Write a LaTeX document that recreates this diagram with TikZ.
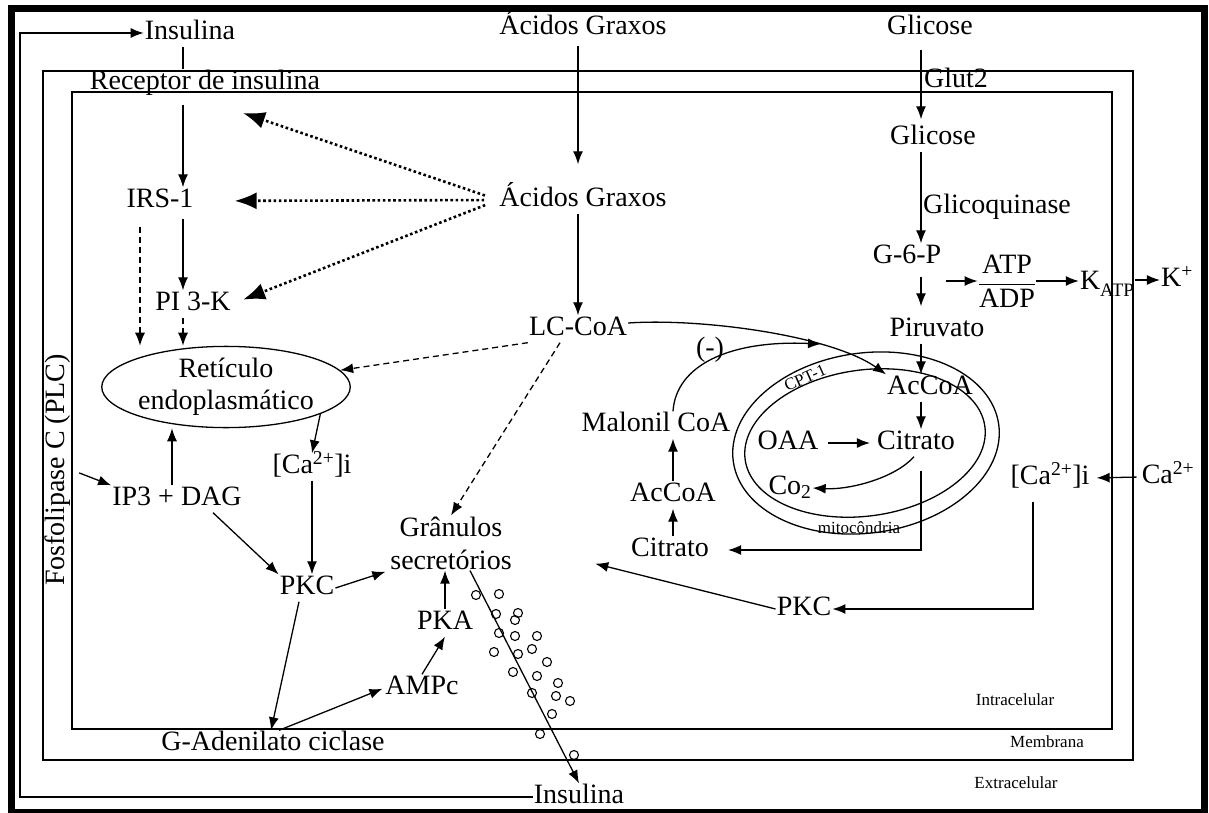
\documentclass[tikz,border=0pt]{standalone}
\usepackage{fontspec}
\setmainfont{Liberation Serif}
\usetikzlibrary{arrows.meta,shapes.geometric}

\tikzset{
  lbl/.style={font=\fontsize{28}{32}\selectfont, inner sep=1pt, text height=19pt, text depth=6pt},
  small/.style={font=\fontsize{17}{19}\selectfont, inner sep=1pt},
  wall/.style={line width=1.3pt},
  arr/.style={->, line width=1.3pt},
  dasharr/.style={->, line width=1.3pt, dash pattern=on 6pt off 4pt},
  dotarr/.style={-{Latex[length=22pt,width=17pt]}, line width=2.6pt, dash pattern=on 2.6pt off 2.6pt},
}

\begin{document}
\begin{tikzpicture}[x=1pt,y=-1pt, >={Latex[length=13pt,width=10pt]}]
        \useasboundingbox (0,0) rectangle (1209,813);
        \draw[line width=7pt] (11.5,9) rectangle (1204.5,812);   % moldura
        \draw[wall] (43,71) rectangle (1133,760);                % membrana
        \draw[wall] (72,92) rectangle (1112,729);                % intracelular
        % mitocondria
        \draw[wall, rotate around={8:(866,443)}] (866,443) ellipse [x radius=134pt, y radius=90pt];
        \draw[wall, rotate around={8:(865,443)}] (865,443) ellipse [x radius=121pt, y radius=73pt];

        % extracelular
        \node[lbl] (insT) at (190,33) {Insulina};
        \node[lbl] (agT) at (583,28) {Ácidos Graxos};
        \node[lbl] (gliT) at (930,28) {Glicose};
        \node[lbl] (insB) at (579,797) {Insulina};
        \node[lbl] (ca) at (1168,477) {Ca\textsuperscript{2+}};
        \node[lbl] (kp) at (1177,280) {K\textsuperscript{+}};
        \node[lbl, rotate=90] (plc) at (58,470) {Fosfolipase C (PLC)};
        \node[lbl] (rec) at (205,83) {Receptor de insulina};
        \node[lbl, anchor=west] (glut) at (923,81) {Glut2};
        \node[small] (intra) at (1015,700) {Intracelular};
        \node[small] (membr) at (1047,742) {Membrana};
        \node[small] (extra) at (1016,783) {Extracelular};

        % lado esquerdo
        \node[lbl] (irs) at (160,201) {IRS-1};
        \node[lbl] (agI) at (583,200) {Ácidos Graxos};
        \node[lbl] (pik) at (193,304) {PI 3-K};
        \node[lbl] (lcc) at (578,329) {LC-CoA};
        \node[draw, ellipse, line width=1.3pt, minimum width=242pt, minimum height=74pt, inner sep=0pt,
              align=center, font=\fontsize{28}{32}\selectfont] (ret) at (226,387) {Retículo\\endoplasmático};
        \node[lbl] (caL) at (312,467) {[Ca\textsuperscript{2+}]i};
        \node[lbl] (ip3) at (177,499) {IP3 + DAG};
        \node[lbl] (pkcL) at (307,588) {PKC};
        \node[align=center, inner sep=1pt, font=\fontsize{28}{33}\selectfont] (gran) at (451,543) {Grânulos\\secretórios};
        \node[lbl] (pka) at (445,623) {PKA};
        \node[lbl] (ampc) at (422,688) {AMPc};
        \node[lbl] (gad) at (273,744) {G-Adenilato ciclase};

        % lado direito
        \node[lbl] (gliI) at (933,138) {Glicose};
        \node[lbl] (gq) at (997,207) {Glicoquinase};
        \node[lbl] (g6p) at (907,257) {G-6-P};
        \node[font=\fontsize{28}{32}\selectfont, inner sep=0pt] (atp) at (1007,281) {$\displaystyle\frac{\mbox{ATP}}{\mbox{ADP}}$};
        \node[lbl] (katp) at (1107,283) {K\raisebox{-7pt}{\fontsize{19}{21}\selectfont ATP}};
        \node[lbl] (pir) at (937,330) {Piruvato};
        \node[lbl] (acM) at (930,388) {AcCoA};
        \node[lbl] (citM) at (916,443) {Citrato};
        \node[lbl] (oaa) at (788,443) {OAA};
        \node[lbl] (co2) at (790,488) {Co\textsubscript{2}};
        \node[small, rotate=24, inner sep=0pt] (cpt) at (805,378) {CPT-1};
        \node[small] (mito) at (859,528) {mitocôndria};
        \node[lbl] (mal) at (656,425) {Malonil CoA};
        \node[lbl] (acL) at (673,495) {AcCoA};
        \node[lbl] (citL) at (670,550) {Citrato};
        \node[lbl] (inib) at (710,350) {(-)};
        \node[lbl] (caR) at (1050,478) {[Ca\textsuperscript{2+}]i};
        \node[lbl] (pkcR) at (804,609) {PKC};

        % colunas
        \coordinate (cI) at (183,0);
        \coordinate (cA) at (578,0);
        \coordinate (cG) at (921,0);
        \coordinate (cM) at (673,0);
        \coordinate (cR) at (172,0);

        % insulina
        \draw[wall] (insT.south -| cI) -- (rec.north -| cI);
        \draw[arr, shorten <=8pt] (rec.south -| cI) -- (irs.north -| cI);
        \draw[arr, shorten <=4pt] (irs.south -| cI) -- (pik.north -| cI);
        \draw[dasharr] (pik.south -| cI) -- (ret.north -| cI);
        \draw[dasharr, shorten <=12pt] ([xshift=-20pt]irs.south) -- ([xshift=-20pt]irs.south |- ret.north);
        \coordinate (fbB) at (20,797);
        \coordinate (fbT) at (20,33);
        \draw[arr] (insB.west) -- (fbB) -- (fbT) -- (insT.west);   % retorno

        % acidos graxos
        \coordinate (alvo) at (243,113);
        \draw[dotarr, shorten <=14pt] (agI.west) -- (alvo);
        \draw[dotarr, shorten <=14pt, shorten >=40pt] (agI.west) -- (irs.east);
        \draw[dotarr, shorten <=14pt, shorten >=12pt] (agI.west) -- (pik.east);
        \draw[arr, shorten <=4pt, shorten >=22pt] (agT.south -| cA) -- (agI.north -| cA);
        \draw[arr] (agI.south -| cA) -- (lcc.north -| cA);
        \draw[dasharr] (lcc.south west) -- (ret);
        \draw[dasharr] ([xshift=-18pt]lcc.south) -- (gran.north);
        \draw[arr] ([yshift=6pt]lcc.east) .. controls (700,318) and (830,335) .. (acM.north west);
        \coordinate (inh) at (821,344);
        \draw[arr] (mal.north -| cM) .. controls (676,365) and (730,340) .. (inh);   % (-)

        % glicose
        \draw[arr, shorten <=8pt, shorten >=5pt] (gliT.south -| cG) -- (gliI.north -| cG);
        \draw[arr] (gliI.south -| cG) -- (g6p.north -| cG);
        \draw[arr, shorten <=6pt, shorten >=10pt] (g6p.south -| cG) -- (pir.north -| cG);
        \draw[arr, shorten <=4pt] (g6p.east |- atp.west) -- (atp.west);
        \draw[arr] (atp.east) -- (katp.west |- atp.east);
        \draw[arr] (katp.east |- kp.west) -- (kp.west);
        \draw[arr] (pir.south -| cG) -- (acM.north -| cG);
        \draw[arr] (acM.south -| cG) -- (citM.north -| cG);
        \draw[arr, shorten <=8pt, shorten >=6pt] (oaa.east) -- (citM.west);
        \draw[arr] ([xshift=-2pt]citM.south) .. controls (895,478) and (850,490) .. (co2.east);
        \coordinate (cc) at (921,550);
        \draw[arr, shorten <=14pt, shorten >=18pt] (citM.south -| cc) -- (cc) -- (citL.east);
        \draw[arr] (citL.north -| cM) -- (acL.south -| cM);
        \draw[arr] (acL.north -| cM) -- (mal.south -| cM);

        % calcio
        \draw[arr, shorten <=4pt, shorten >=6pt] (ca.west) -- (caR.east);
        \coordinate (cr) at (1033,609);
        \draw[arr, shorten <=10pt] (caR.south -| cr) -- (cr) -- (pkcR.east);
        \draw[arr, shorten >=85pt] (pkcR.west) -- (gran.east);
        \draw[arr] (ret.-16) -- (caL.north);
        \draw[arr] (caL.south) -- (caL.south |- pkcL.north);
        \draw[arr] (ip3.north -| cR) -- (ret.south -| cR);
        \draw[arr, shorten <=8pt] (plc.south) -- (ip3.north west);
        \draw[arr] ([xshift=36pt]ip3.south) -- (pkcL.north west);
        \draw[arr, shorten >=4pt] (pkcL.east) -- (gran.south west);
        \draw[arr] ([xshift=-8pt]pkcL.south) -- ([xshift=-2pt]gad.north);
        \draw[arr, shorten >=2pt] ([xshift=6pt]gad.north) -- (ampc.west);
        \draw[arr] (ampc.north) -- (pka.south);
        \draw[arr] (pka.north) -- (pka.north |- gran.south);

        % secrecao
        \draw[arr] ([xshift=19pt]gran.south) -- (insB.north);
        \foreach \p in {(476,595),(499,594),(496,614),(518,613),(515,620),(499,633),(515,636),(537,636),
                        (494,652),(518,654),(532,649),(547,662),(513,672),(537,676),(558,683),(532,693),
                        (556,696),(570,701),(552,714),(540,734),(574,755)}
            \draw[line width=1.1pt] \p circle[radius=4.5pt];
\end{tikzpicture}
\end{document}
